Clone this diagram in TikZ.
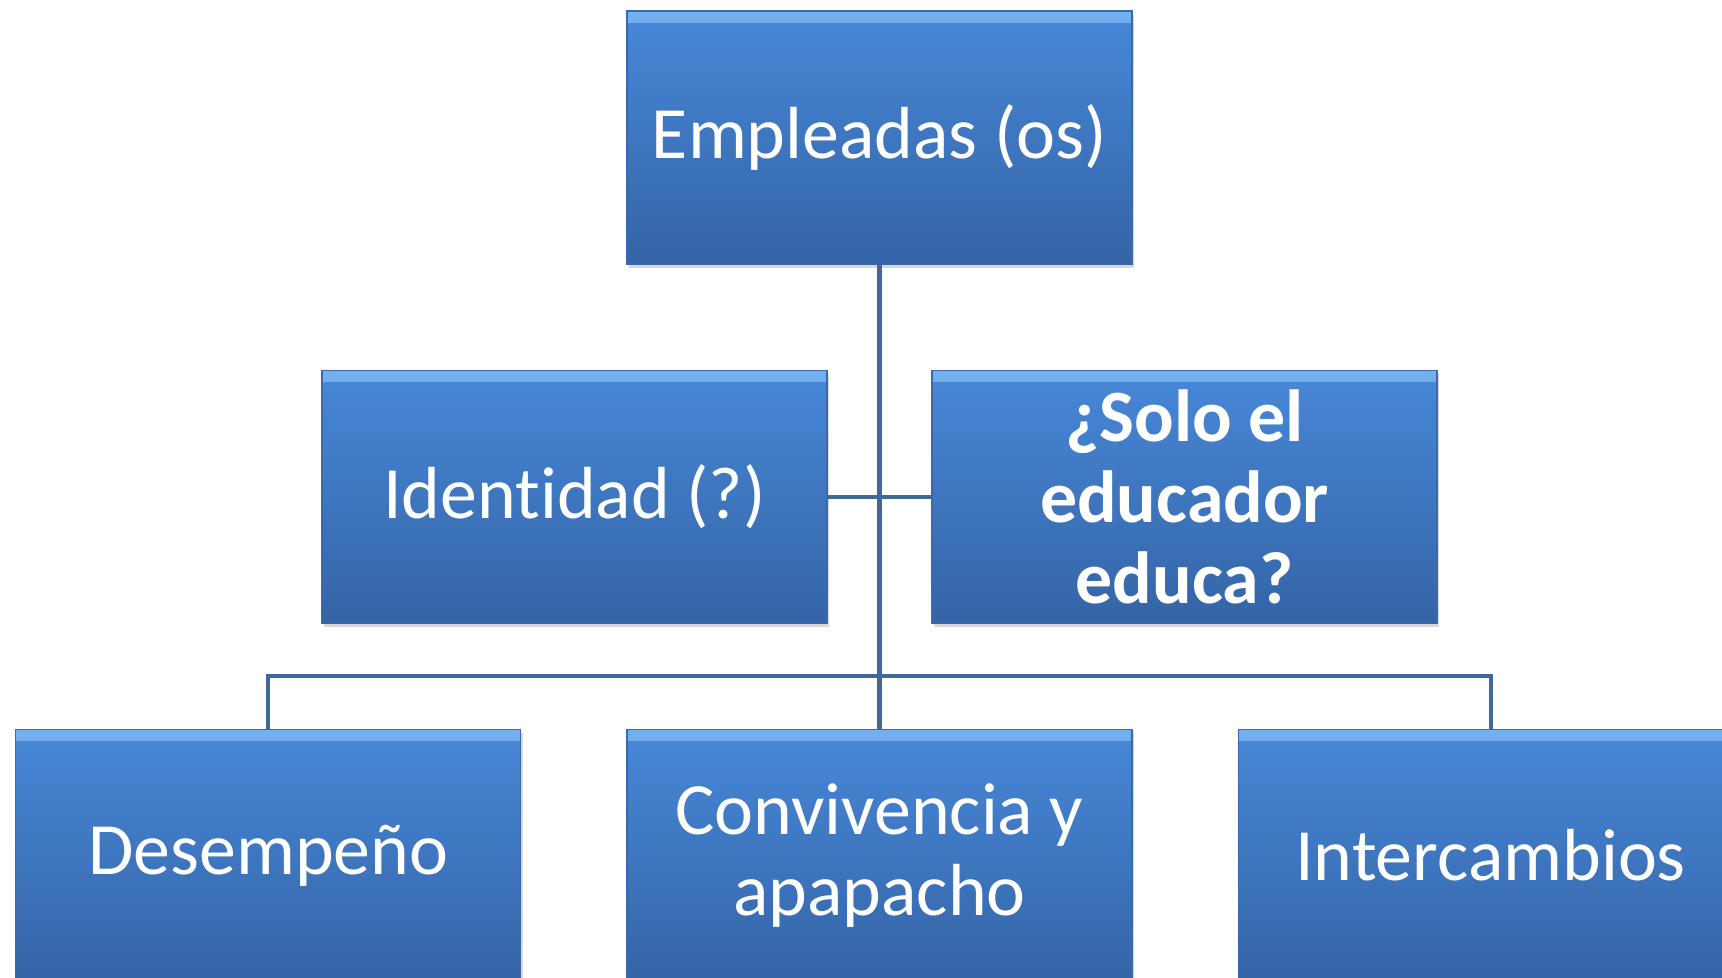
\documentclass[tikz,border=0pt]{standalone}
\usepackage{fontspec}
\setmainfont{Carlito}[Ligatures=NoCommon]
\usepackage{xcolor}
\usepackage{tikz}
\usetikzlibrary{positioning,shadows}

\definecolor{boxtop}{HTML}{4788D8}
\definecolor{boxbot}{HTML}{3564A6}
\definecolor{boxedge}{HTML}{3A6AAE}
\definecolor{bevel}{HTML}{74B0EE}
\definecolor{linkcol}{HTML}{41689A}

\begin{document}
\begin{tikzpicture}[node distance=2.1cm,
    orgbox/.style={rectangle, draw=boxedge, line width=0.6pt, top color=boxtop, bottom color=boxbot,
        minimum width=10.1cm, minimum height=5.06cm, inner sep=0pt, align=center,
        text=white, font=\fontsize{42}{46}\selectfont,
        drop shadow={shadow xshift=0.04cm, shadow yshift=-0.07cm, opacity=0.3},
        path picture={\shade[top color=bevel, bottom color=boxtop]
            (path picture bounding box.north west) rectangle ([yshift=-0.22cm]path picture bounding box.north east);}},
    link/.style={draw=linkcol, line width=2.3pt}]

    \useasboundingbox[fill=white] (0,0) rectangle (34.44,-19.54);

    \node[orgbox] (emp) at (17.59,-2.75) {Empleadas (os)};

    \node[orgbox, below=of emp, xshift=-6.1cm] (ident) {Identidad (?)};
    \node[orgbox, below=of emp, xshift=6.1cm, font=\fontsize{42}{46}\selectfont\bfseries] (solo) {¿Solo el\\educador\\educa?};

    \node[orgbox, below=of ident, xshift=6.1cm] (conv) {Convivencia y\\apapacho};
    \node[orgbox, left=of conv] (desem) {Desempeño};
    \node[orgbox, right=of conv] (inter) {Intercambios};

    \draw[link] (emp) -- (conv);
    \draw[link] (ident) -- (solo);
    \draw[link] (desem) -- ++(0,3.59) -| (inter);

\end{tikzpicture}
\end{document}
